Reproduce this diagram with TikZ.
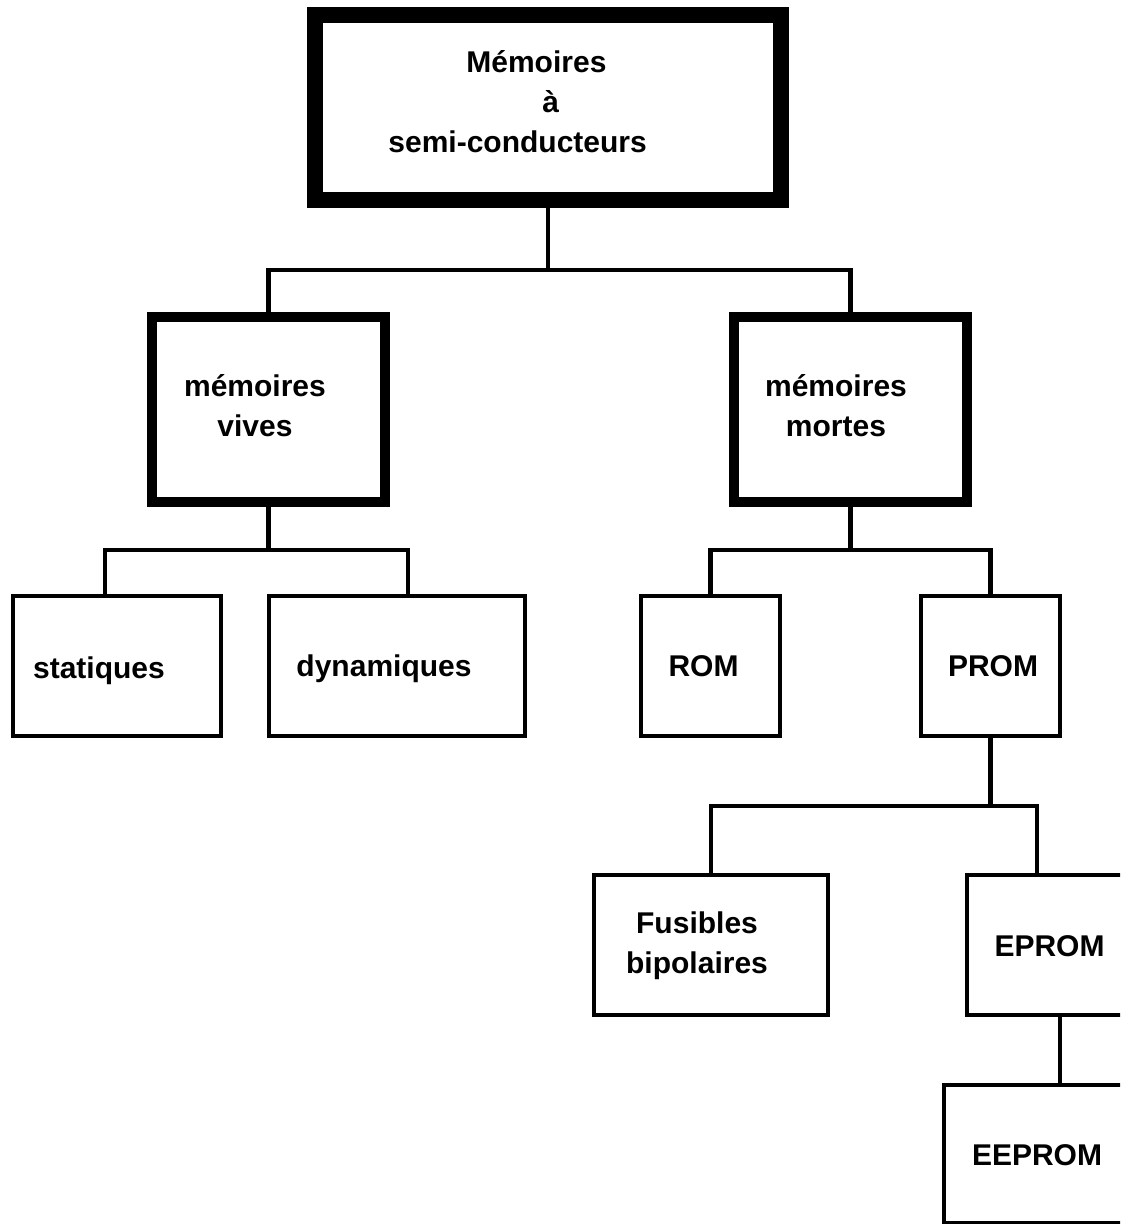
\documentclass[tikz,border=0pt]{standalone}
\usepackage{fontspec}
\setmainfont{Liberation Sans}
\usetikzlibrary{calc}

\begin{document}
\begin{tikzpicture}[
    x=0.5pt, y=-0.5pt,
    rootbox/.style={rectangle, draw, line width=8pt, inner sep=0pt, minimum width=233pt, minimum height=92.5pt},
    midbox/.style={rectangle, draw, line width=5pt, inner sep=0pt, minimum width=116.5pt, minimum height=92.5pt},
    leafbox/.style={rectangle, draw, line width=2.25pt, inner sep=0pt, minimum height=70pt},
    txt/.style={font=\bfseries\fontsize{15}{20}\selectfont, inner sep=0pt},
    link/.style={line width=2.25pt}
]
\useasboundingbox (0,0) rectangle (1120,1224);
\clip (0,0) rectangle (1120,1224);

% Root
\node[rootbox] (root) at (548, 107.5) {};
\node[txt, align=left, anchor=base west] (root_txt) at (388, 153)
    {\hspace*{39pt}Mémoires\\\hspace*{77pt}à\\semi-conducteurs};

% Second level
\node[midbox] (vives) at (268.5, 409.5) {};
\node[txt, align=center, anchor=base] (vives_txt) at (255, 437) {mémoires\\vives};
\node[midbox] (mortes) at (850.5, 409.5) {};
\node[txt, align=center, anchor=base] (mortes_txt) at (836, 437) {mémoires\\mortes};

% Leaves
\node[leafbox, minimum width=104pt] (stat) at (117, 666) {};
\node[txt, anchor=base] (stat_txt) at (99, 678) {statiques};
\node[leafbox, minimum width=128pt] (dyn) at (397, 666) {};
\node[txt, anchor=base] (dyn_txt) at (384, 676) {dynamiques};
\node[leafbox, minimum width=69.5pt] (rom) at (710.5, 666) {};
\node[txt, anchor=base] (rom_txt) at (703.5, 676) {ROM};
\node[leafbox, minimum width=69.5pt] (prom) at (990.5, 666) {};
\node[txt, anchor=base] (prom_txt) at (993, 676) {PROM};

% PROM children
\node[leafbox, minimum width=117pt] (fus) at (711, 945) {};
\node[txt, align=center, anchor=base] (fus_txt) at (697, 973) {Fusibles\\bipolaires};
\node[leafbox, minimum width=93pt] (eprom) at (1060, 945) {};
\node[txt, anchor=base] (eprom_txt) at (1049.5, 956) {EPROM};
\node[leafbox, minimum width=116pt, minimum height=69pt] (eeprom) at (1060, 1154) {};
\node[txt, anchor=base] (eeprom_txt) at (1037, 1165) {EEPROM};

% Connectors
\coordinate (bus1) at (548, 270);
\draw[link] (root.south) -- (bus1);
\draw[link] (vives.north) |- (bus1) -| (mortes.north);

\coordinate (bus2) at (268.5, 550);
\draw[link] (vives.south) -- (bus2);
\draw[link] ($(stat.north)+(-12,0)$) |- (bus2) -| ($(dyn.north)+(11,0)$);

\coordinate (bus3) at (850.5, 550);
\draw[link] (mortes.south) -- (bus3);
\draw[link] (rom.north) |- (bus3) -| (prom.north);

\coordinate (bus4) at (990.5, 806);
\draw[link] (prom.south) -- (bus4);
\draw[link] (fus.north) |- (bus4) -| ($(eprom.north)+(-23,0)$);
\draw[link] (eprom.south) -- (eeprom.north);

\end{tikzpicture}
\end{document}
